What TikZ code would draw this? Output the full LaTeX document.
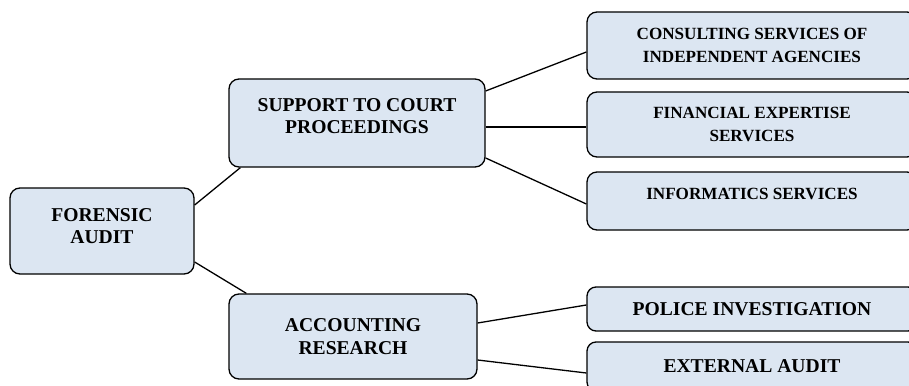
\documentclass[tikz,border=0pt]{standalone}
\usepackage{fontspec}
\setmainfont{Liberation Serif}
\definecolor{boxfill}{RGB}{220,230,242}
\begin{document}
\begin{tikzpicture}[x=1pt,y=-1pt,
    box/.style={draw=black,line width=1.3pt,fill=boxfill,rounded corners=10pt,
      align=center,font=\bfseries\fontsize{19.6}{22.5}\selectfont,inner sep=2pt},
    small/.style={font=\bfseries\fontsize{17.1}{22.5}\selectfont},
    link/.style={line width=1.3pt}]
    \useasboundingbox (0,0) rectangle (909,385);
    \node[box,minimum width=184pt,minimum height=86pt,text depth=10pt] (fa) at (102,231) {FORENSIC\\AUDIT};
    \node[box,minimum width=256pt,minimum height=88pt,text depth=14pt] (sup) at (357,123) {SUPPORT TO COURT\\PROCEEDINGS};
    \node[box,minimum width=248pt,minimum height=85pt] (acc) at (353,336.5) {ACCOUNTING\\RESEARCH};
    \node[box,small,minimum width=330pt,minimum height=67pt] (con) at (752,45.5) {CONSULTING SERVICES OF\\INDEPENDENT AGENCIES};
    \node[box,small,minimum width=330pt,minimum height=65pt] (fin) at (752,124.5) {FINANCIAL EXPERTISE\\SERVICES};
    \node[box,small,minimum width=330pt,minimum height=58pt,text depth=15pt] (inf) at (752,201) {INFORMATICS SERVICES};
    \node[box,minimum width=330pt,minimum height=44pt,rounded corners=9pt] (pol) at (752,309) {POLICE INVESTIGATION};
    \node[box,minimum width=330pt,minimum height=49pt,rounded corners=9pt] (ext) at (752,366.5) {EXTERNAL AUDIT};
    \draw[link] ([yshift=26pt]fa.east) -- ([xshift=12pt]sup.south west);
    \draw[link] ([yshift=-31pt]fa.east) -- ([xshift=18pt]acc.north west);
    \draw[link] ([yshift=32pt]sup.east) -- ([yshift=-6.5pt]con.west);
    \draw[link] ([yshift=-4pt]sup.east) -- ([yshift=-2.5pt]fin.west);
    \draw[link] ([yshift=-35pt]sup.east) -- ([yshift=-3pt]inf.west);
    \draw[link] ([yshift=13.5pt]acc.east) -- ([yshift=4pt]pol.west);
    \draw[link] ([yshift=-23.5pt]acc.east) -- ([yshift=-6.5pt]ext.west);
\end{tikzpicture}
\end{document}
